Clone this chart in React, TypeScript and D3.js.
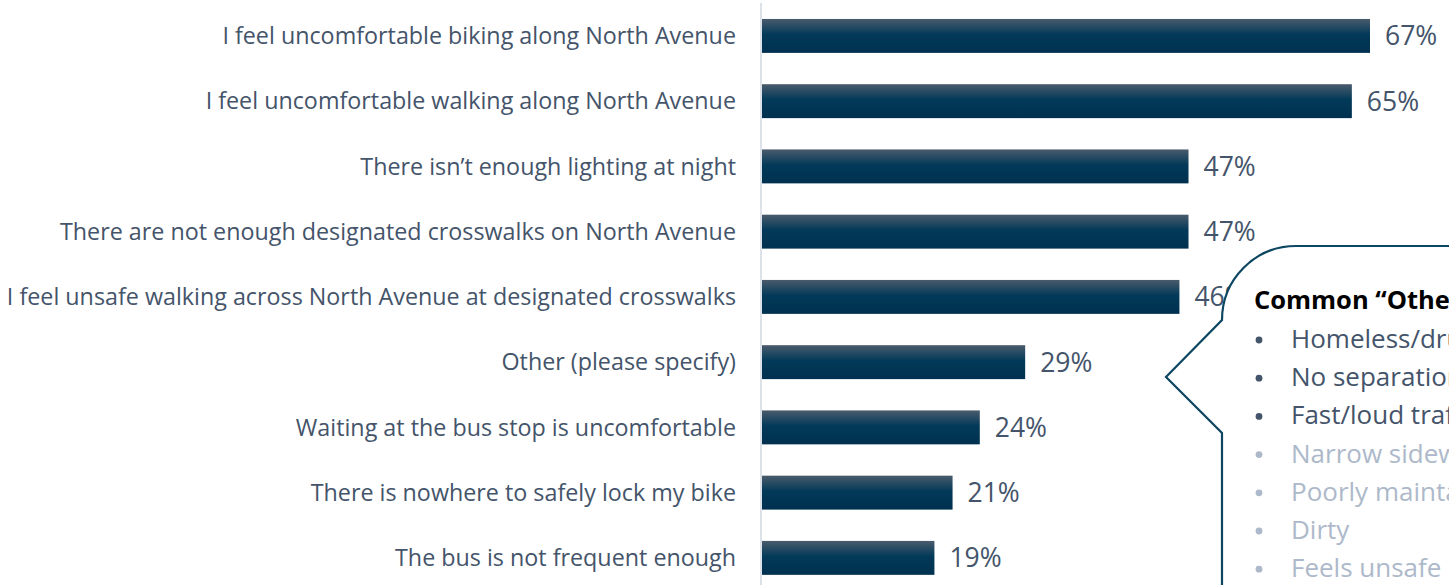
import React from 'react';
import * as d3 from 'd3';

const categories = [
  'I feel uncomfortable biking along North Avenue',
  'I feel uncomfortable walking along North Avenue',
  'There isn’t enough lighting at night',
  'There are not enough designated crosswalks on North Avenue',
  'I feel unsafe walking across North Avenue at designated crosswalks',
  'Other (please specify)',
  'Waiting at the bus stop is uncomfortable',
  'There is nowhere to safely lock my bike',
  'The bus is not frequent enough',
];
const values = [0.67, 0.65, 0.47, 0.47, 0.46, 0.29, 0.24, 0.21, 0.19];

const calloutTitle = 'Common “Other” responses';
const otherResponses = [
  'Homeless/drug activity',
  'No separation from traffic',
  'Fast/loud traffic',
  'Narrow sidewalks',
  'Poorly maintained sidewalks',
  'Dirty',
  'Feels unsafe',
];
const highlighted = 3;

const W = 1449;
const H = 585;
const FONT = '"Open Sans", sans-serif';
const TEXT = '#44546a';

const App = () => {
  const x = d3.scaleLinear().domain([0, 0.67]).range([762, 1370]);
  const y = d3.scaleBand().domain(categories).range([3.3, 590.5])
    .paddingInner(0.48).paddingOuter(0.24);
  const pct = d3.format('.0%');

  // callout bubble, runs off the right and bottom edges
  const bx = 1222, by = 246, r = 74;
  const bubble = d3.path();
  bubble.moveTo(W + 20, by);
  bubble.lineTo(bx + r, by);
  bubble.arcTo(bx, by, bx, by + r, r);
  bubble.lineTo(1166, 377);
  bubble.lineTo(bx, 433);
  bubble.lineTo(bx, H + 20);
  bubble.lineTo(W + 20, H + 20);
  bubble.closePath();

  return (
    <svg width={W} height={H} style={{ position: 'absolute', left: 0, top: 0, background: '#fff' }}
      fontFamily={FONT}>
      <defs>
        <linearGradient id="barGrad" x1="0" y1="0" x2="0" y2="1">
          <stop offset="0" stopColor="#4a5b6c" />
          <stop offset="0.45" stopColor="#033a59" />
          <stop offset="1" stopColor="#00304f" />
        </linearGradient>
      </defs>
      <line x1={761} x2={761} y1={3} y2={H} stroke="#dde1e8" strokeWidth={2} />
      {categories.map((c, i) => {
        const yy = y(c)!;
        const cy = yy + y.bandwidth() / 2;
        return (
          <g key={c}>
            <text x={736} y={cy} dy="0.35em" textAnchor="end" fontSize={23.3} fill={TEXT}>{c}</text>
            <rect x={x(0)} y={yy} width={x(values[i]) - x(0)} height={y.bandwidth()} fill="url(#barGrad)" />
            <text x={x(values[i]) + 15} y={cy} dy="0.36em" fontSize={26.5} fill={TEXT}>{pct(values[i])}</text>
          </g>
        );
      })}
      <path d={bubble.toString()} fill="#fff" stroke="#0d4660" strokeWidth={2.2} />
      <text x={1254} y={309} fontSize={25.5} fontWeight="bold" fill="#000">{calloutTitle}</text>
      {otherResponses.map((t, i) => {
        const ty = 348 + i * 38.2;
        const col = i < highlighted ? TEXT : '#adb9ca';
        return (
          <g key={t}>
            <circle cx={1259} cy={ty - 8} r={3.4} fill={col} />
            <text x={1291} y={ty} fontSize={26} fill={col}>{t}</text>
          </g>
        );
      })}
    </svg>
  );
};

export default App;
